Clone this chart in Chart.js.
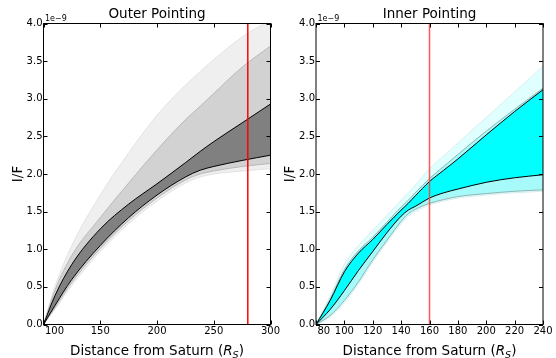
<!DOCTYPE html>
<html>
<head>
<meta charset="utf-8">
<script src="https://cdn.jsdelivr.net/npm/chart.js@4.4.0/dist/chart.umd.min.js"></script>
<style>
  body { margin: 0; background: #fff; width: 556px; height: 358px; position: relative; overflow: hidden; font-family: "DejaVu Sans", sans-serif; }
  canvas { position: absolute; top: 0; }
  #outer { left: 0; }
  #inner { left: 276px; }
  .xlabel { position: absolute; top: 342px; font-size: 13.5px; line-height: 16px; text-align: center; white-space: nowrap; color: #000; }
  .xlabel sub { font-size: 9.5px; vertical-align: baseline; position: relative; top: 3px; font-style: italic; }
</style>
</head>
<body>
<canvas id="outer" width="290" height="358"></canvas>
<canvas id="inner" width="280" height="358"></canvas>
<div class="xlabel" style="left:43.5px;width:227px">Distance from Saturn (<i>R</i><sub>S</sub>)</div>
<div class="xlabel" style="left:316px;width:227px">Distance from Saturn (<i>R</i><sub>S</sub>)</div>
<script>
// values in units of 1e-9 (I/F)
const outerX = [100, 110, 125, 150, 175, 200, 225, 238, 250, 275, 300];
const outerDarkHi = [0, 0.38, 0.80, 1.27, 1.60, 1.87, 2.15, 2.30, 2.43, 2.68, 2.93];
const outerDarkLo = [0, 0.25, 0.60, 1.05, 1.42, 1.72, 1.96, 2.05, 2.10, 2.18, 2.25];
const outerMidHi = [0, 0.45, 0.92, 1.42, 1.88, 2.32, 2.72, 2.90, 3.07, 3.42, 3.70];
const outerMidLo = [0, 0.22, 0.56, 1.01, 1.38, 1.68, 1.92, 2.00, 2.04, 2.10, 2.14];
const outerLightHi = [0, 0.50, 1.05, 1.72, 2.28, 2.78, 3.18, 3.36, 3.52, 3.82, 4.05];
const outerLightLo = [0, 0.20, 0.52, 0.97, 1.34, 1.64, 1.88, 1.96, 2.00, 2.04, 2.07];
const outerMarker = 280;

const innerX = [80, 90, 100, 110, 120, 130, 140, 145, 150, 160, 170, 180, 200, 220, 240];
const innerDarkHi = [0, 0.32, 0.70, 0.95, 1.13, 1.33, 1.52, 1.61, 1.71, 1.90, 2.05, 2.20, 2.52, 2.83, 3.12];
const innerDarkLo = [0, 0.20, 0.45, 0.72, 0.97, 1.22, 1.44, 1.52, 1.57, 1.68, 1.75, 1.80, 1.89, 1.95, 1.99];
const innerMidHi = [0, 0.34, 0.73, 0.98, 1.16, 1.36, 1.56, 1.65, 1.75, 1.94, 2.10, 2.26, 2.57, 2.86, 3.14];
const innerMidLo = [0, 0.12, 0.32, 0.57, 0.86, 1.12, 1.37, 1.47, 1.53, 1.61, 1.66, 1.70, 1.74, 1.77, 1.79];
const innerLightHi = [0, 0.38, 0.80, 1.05, 1.25, 1.45, 1.65, 1.75, 1.85, 2.07, 2.24, 2.41, 2.75, 3.09, 3.43];
const innerLightLo = [0, 0.10, 0.29, 0.54, 0.83, 1.09, 1.34, 1.44, 1.50, 1.59, 1.64, 1.68, 1.72, 1.75, 1.77];
const innerMarker = 160;

const yMin = 0, yMax = 4;
const FONT = '"DejaVu Sans", sans-serif';

function pts(xs, ys) {
  return xs.map((x, i) => ({ x: x, y: ys[i] }));
}

function addBand(list, xs, hi, lo, fillColor, edgeColor, edgeWidth, order) {
  const loIndex = list.length + 1;
  list.push({ data: pts(xs, hi), borderColor: edgeColor, borderWidth: edgeWidth, backgroundColor: fillColor, fill: loIndex, order: order });
  list.push({ data: pts(xs, lo), borderColor: edgeColor, borderWidth: edgeWidth, fill: false, order: order - 0.1 });
}

function markerLine(x, color) {
  return { data: [{ x: x, y: yMin }, { x: x, y: yMax }], borderColor: color, borderWidth: 1.5, fill: false, order: 0, cubicInterpolationMode: 'default' };
}

// inward ticks on all sides, frame, offset text
const frameTicks = {
  id: 'frameTicks',
  beforeDraw(chart) {
    // first x label sits to the right of the corner, like the original
    const items = chart.scales.x.getLabelItems(chart.chartArea);
    if (items.length) {
      items[0].options.textAlign = 'left';
      items[0].options.translation[0] = chart.chartArea.left + 1.5;
    }
  },
  afterDatasetsDraw(chart) {
    const { ctx, chartArea: a, scales: { x, y } } = chart;
    ctx.save();
    ctx.strokeStyle = '#000';
    ctx.lineWidth = 1;
    ctx.beginPath();
    x.ticks.forEach(t => {
      const px = Math.round(x.getPixelForValue(t.value)) + 0.5;
      ctx.moveTo(px, a.bottom); ctx.lineTo(px, a.bottom - 4);
      ctx.moveTo(px, a.top); ctx.lineTo(px, a.top + 4);
    });
    y.ticks.forEach(t => {
      const py = Math.round(y.getPixelForValue(t.value)) + 0.5;
      ctx.moveTo(a.left, py); ctx.lineTo(a.left + 4, py);
      ctx.moveTo(a.right, py); ctx.lineTo(a.right - 4, py);
    });
    ctx.stroke();
    ctx.strokeRect(a.left, a.top, a.right - a.left, a.bottom - a.top);
    ctx.fillStyle = '#000';
    ctx.font = '8px ' + FONT;
    ctx.textBaseline = 'bottom';
    ctx.fillText('1e\u22129', a.left + 1.5, a.top - 1);
    ctx.restore();
  }
};

function makeOptions(title, xMin, xMax, xStep, yWidth, yTitlePad, padRight) {
  return {
    responsive: false,
    animation: false,
    layout: { padding: { left: 0, right: padRight, top: 0, bottom: 0 } },
    elements: { point: { radius: 0 }, line: { cubicInterpolationMode: 'monotone' } },
    plugins: {
      legend: { display: false },
      tooltip: { enabled: false },
      title: {
        display: true, text: title, fullSize: false, color: '#000',
        font: { family: FONT, size: 13.5, weight: 'normal' },
        padding: { top: 6.3, bottom: 1 }
      }
    },
    scales: {
      x: {
        type: 'linear', min: xMin, max: xMax,
        ticks: { stepSize: xStep, color: '#000', font: { family: FONT, size: 10 }, padding: 0.5, maxRotation: 0, autoSkip: false },
        grid: { display: false, drawTicks: false },
        border: { display: false },
        afterFit: s => { s.height = 33.5; s.paddingLeft = 0; s.paddingRight = 0; }
      },
      y: {
        min: yMin, max: yMax,
        ticks: { stepSize: 0.5, color: '#000', font: { family: FONT, size: 10 }, padding: 1, callback: v => v.toFixed(1) },
        grid: { display: false, drawTicks: false },
        border: { display: false },
        title: { display: true, text: 'I/F', color: '#000', font: { family: FONT, size: 13.5 }, padding: { top: yTitlePad, bottom: 0 } },
        afterFit: s => { s.width = yWidth; s.paddingTop = 0; s.paddingBottom = 0; }
      }
    }
  };
}

const outerSets = [];
addBand(outerSets, outerX, outerLightHi, outerLightLo, '#efefef', '#e2e2e2', 1, 6);
addBand(outerSets, outerX, outerMidHi, outerMidLo, '#d2d2d2', '#b8b8b8', 1, 5);
addBand(outerSets, outerX, outerDarkHi, outerDarkLo, '#808080', '#000000', 1, 4);
outerSets.push(markerLine(outerMarker, '#ff0000'));

const innerSets = [];
addBand(innerSets, innerX, innerLightHi, innerLightLo, '#e0ffff', '#d6eeee', 1, 6);
addBand(innerSets, innerX, innerMidHi, innerMidLo, '#a6fafa', '#8fb4b4', 1, 5);
addBand(innerSets, innerX, innerDarkHi, innerDarkLo, '#00ffff', '#000000', 1, 4);
innerSets.push(markerLine(innerMarker, 'rgba(255,60,60,0.85)'));

new Chart(document.getElementById('outer'), {
  type: 'line',
  data: { datasets: outerSets },
  options: makeOptions('Outer Pointing', 100, 300, 50, 43.5, 10, 19.5),
  plugins: [frameTicks]
});

new Chart(document.getElementById('inner'), {
  type: 'line',
  data: { datasets: innerSets },
  options: makeOptions('Inner Pointing', 80, 240, 20, 40, 6, 13),
  plugins: [frameTicks]
});
</script>
</body>
</html>
